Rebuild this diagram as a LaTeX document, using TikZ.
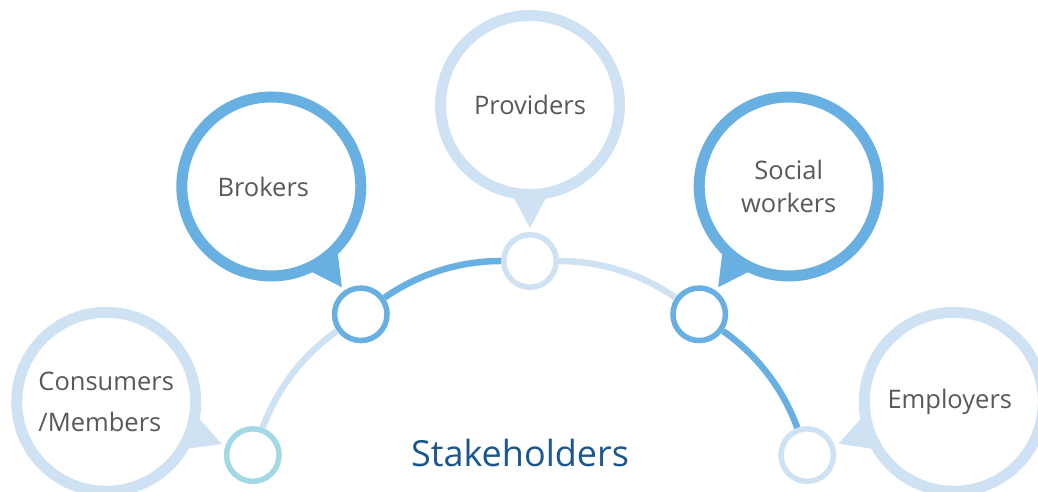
\documentclass[tikz,border=0pt]{standalone}
\usepackage{fontspec}
\setmainfont{Open Sans}
\usetikzlibrary{calc}

\definecolor{darkring}{HTML}{67B0E1}
\definecolor{lightring}{HTML}{CFE2F3}
\definecolor{tealring}{HTML}{A2D9E5}
\definecolor{labelgrey}{HTML}{595959}
\definecolor{titleblue}{HTML}{1B578F}

\tikzset{
  bubble/.style={circle, draw=#1, fill=white, line width=11pt, minimum size=179pt, inner sep=0pt,
    align=center, text=labelgrey, font=\fontsize{25.5}{33}\selectfont},
  dot/.style={circle, draw=#1, fill=white, line width=5.5pt, minimum size=52.5pt, inner sep=0pt},
  arcpart/.style={#1, line width=6.5pt},
}

\begin{document}
\begin{tikzpicture}[x=1pt, y=1pt]
    \useasboundingbox (0, 0) rectangle (1038, 492);

    % dots on the arc
    \node[dot=tealring] (d1) at (252.8, 36.9) {};
    \node[dot=darkring] (d2) at (360.8, 177.7) {};
    \node[dot=lightring] (d3) at (530, 231) {};
    \node[dot=darkring] (d4) at (699.2, 177.7) {};
    \node[dot=lightring] (d5) at (807.2, 36.9) {};

    \draw[arcpart=lightring] (d1) to[bend left=17.5, looseness=0.87] (d2);
    \draw[arcpart=darkring] (d2) to[bend left=17.5, looseness=0.87] (d3);
    \draw[arcpart=lightring] (d3) to[bend left=17.5, looseness=0.87] (d4);
    \draw[arcpart=darkring] (d4) to[bend left=17.5, looseness=0.87] (d5);

    % speech bubbles
    \node[bubble=lightring, align=left, font=\fontsize{25.5}{41}\selectfont] (consumers) at (106.2, 90.2) {Consumers\\/Members};
    \node[bubble=darkring, text width=160pt, text badly centered] (brokers) at (271.3, 305.5) {\hspace*{-16pt}Brokers};
    \node[bubble=lightring] (providers) at (530, 387) {Providers};
    \node[bubble=darkring] (social) at (788.7, 305.5) {Social\\workers};
    \node[bubble=lightring] (employers) at (953.8, 90.2) {\hspace*{-8pt}Employers};

    \fill[lightring] ($(consumers)+(-7.5:89)$) -- ($(consumers)+(-20:123)$) -- ($(consumers)+(-32.5:89)$) -- cycle;
    \fill[darkring] ($(brokers)+(-42.5:89)$) -- ($(brokers)+(-55:123)$) -- ($(brokers)+(-67.5:89)$) -- cycle;
    \fill[lightring] ($(providers)+(-77.5:89)$) -- ($(providers)+(-90:123)$) -- ($(providers)+(-102.5:89)$) -- cycle;
    \fill[darkring] ($(social)+(-112.5:89)$) -- ($(social)+(-125:123)$) -- ($(social)+(-137.5:89)$) -- cycle;
    \fill[lightring] ($(employers)+(-147.5:89)$) -- ($(employers)+(-160:123)$) -- ($(employers)+(-172.5:89)$) -- cycle;

    \node[text=titleblue, font=\fontsize{36}{44}\selectfont] (title) at (520, 39) {Stakeholders};
\end{tikzpicture}
\end{document}
